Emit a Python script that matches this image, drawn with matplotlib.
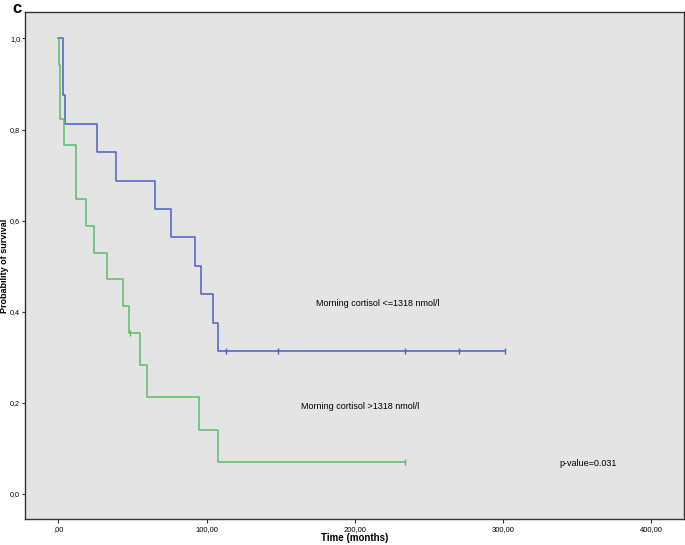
"""
Kaplan-Meier survival by morning cortisol (panel c).
"""
import matplotlib
matplotlib.use("Agg")
import matplotlib.pyplot as plt
from matplotlib.ticker import FuncFormatter

plt.rcParams['font.family'] = ['Liberation Sans', 'DejaVu Sans']

# step curves (time in months, survival probability)
low_t = [0, 3, 4.7, 26, 39, 65, 76, 92, 96, 104, 108, 301]
low_s = [1.0, 0.875, 0.813, 0.75, 0.688, 0.625, 0.563, 0.5, 0.438, 0.375, 0.313, 0.313]
low_cens_t = [113, 148, 234, 270, 301]
low_cens_s = [0.313, 0.313, 0.313, 0.313, 0.313]

high_t = [0, 0.7, 1.4, 3.8, 11.7, 18.9, 23.8, 33, 43.8, 47.9, 54.9, 60, 94.8, 107.9, 234]
high_s = [1.0, 0.941, 0.824, 0.765, 0.647, 0.588, 0.529, 0.471, 0.412, 0.353,
          0.282, 0.212, 0.141, 0.071, 0.071]
high_cens_t = [48, 234]
high_cens_s = [0.353, 0.071]

x_ticks = [0, 100, 200, 300, 400]
y_ticks = [0.0, 0.2, 0.4, 0.6, 0.8, 1.0]

blue = '#4a60c8'
green = '#5cbd68'

fig = plt.figure(figsize=(6.85, 5.45), dpi=100)
ax = fig.add_axes([0.0365, 0.0477, 0.962, 0.9303])
ax.set_facecolor('#e4e4e4')

ax.step(low_t, low_s, where='post', color=blue, lw=1.1)
ax.plot(low_cens_t, low_cens_s, ls='none', marker='|', ms=5, mew=1, color=blue)
ax.step(high_t, high_s, where='post', color=green, lw=1.1)
ax.plot(high_cens_t, high_cens_s, ls='none', marker='|', ms=5, mew=1, color=green)

ax.set_xlim(-22.5, 422)
ax.set_ylim(-0.055, 1.058)
ax.set_xticks(x_ticks)
ax.set_yticks(y_ticks)
ax.xaxis.set_major_formatter(FuncFormatter(
    lambda v, p: ',00' if v == 0 else f'{v:.2f}'.replace('.', ',')))
ax.yaxis.set_major_formatter(FuncFormatter(
    lambda v, p: f'{v:.1f}'.replace('.', ',')))
ax.tick_params(labelsize=5.5, length=3, width=0.8, color='#333333', pad=2)
ax.tick_params(axis='y', labelsize=5.2, length=2.5, pad=1)

for sp in ax.spines.values():
    sp.set_color('#333333')
    sp.set_linewidth(1.0)

# axis titles placed by hand, the plot fills almost the whole figure
fig.text(355 / 685, 1 - 538 / 545, 'Time (months)', fontsize=7, fontweight='bold',
         ha='center', va='center')
fig.text(5 / 685, 0.513, 'Probability of survival', fontsize=6.5, fontweight='bold',
         rotation=90, ha='center', va='center')

ax.text(174, 0.419, 'Morning cortisol <=1318 nmol/l', fontsize=6.5, va='center')
ax.text(164, 0.191, 'Morning cortisol >1318 nmol/l', fontsize=6.5, va='center')
ax.text(338, 0.066, 'p-value=0.031', fontsize=6.5, va='center')

fig.text(12 / 685, 0.998, 'c', fontsize=12, fontweight='bold', va='top', ha='left')

fig.savefig('out.png', dpi=100)
